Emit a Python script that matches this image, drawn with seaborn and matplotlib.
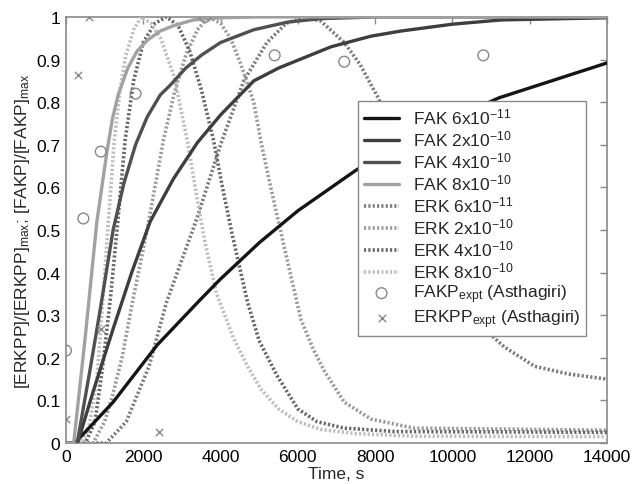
import numpy as np
import pandas as pd
import matplotlib
matplotlib.use('Agg')
import matplotlib.pyplot as plt
import seaborn as sns

# ---------------- data ----------------
fak_6e11_t = [0, 230, 1220, 2360, 3460, 4000, 5000, 6000, 7500, 9000, 11200, 14000]
fak_6e11_v = [0, 0, 0.096, 0.23, 0.335, 0.385, 0.47, 0.545, 0.64, 0.72, 0.81, 0.892]

fak_2e10_t = [0, 300, 700, 1220, 1700, 2180, 2780, 3400, 4000, 4860, 5500, 6860, 7900, 8675, 10000, 11270, 14000]
fak_2e10_v = [0, 0, 0.12, 0.268, 0.40, 0.52, 0.62, 0.705, 0.77, 0.85, 0.88, 0.93, 0.955, 0.967, 0.983, 0.993, 0.998]

fak_4e10_t = [0, 290, 600, 880, 1220, 1500, 1800, 2100, 2440, 2700, 3100, 3500, 4000, 4860, 5740, 6600, 8000, 14000]
fak_4e10_v = [0, 0, 0.16, 0.31, 0.50, 0.61, 0.70, 0.765, 0.817, 0.84, 0.88, 0.91, 0.94, 0.97, 0.988, 0.996, 1.0, 1.0]

fak_8e10_t = [0, 200, 500, 800, 1060, 1200, 1350, 1600, 1840, 2100, 2440, 2800, 3300, 4000, 5000, 14000]
fak_8e10_v = [0, 0, 0.25, 0.52, 0.684, 0.76, 0.817, 0.88, 0.92, 0.945, 0.967, 0.98, 0.993, 0.998, 1.0, 1.0]

erk_6e11_t = [0, 1040, 1560, 2150, 2600, 3000, 3400, 4000, 4600, 5200, 5700, 6200, 6600, 7200, 7600, 8080,
              8600, 9200, 9800, 10300, 10800, 11350, 12130, 13000, 14000]
erk_6e11_v = [0, 0, 0.05, 0.18, 0.33, 0.43, 0.53, 0.70, 0.85, 0.94, 0.985, 1.0, 0.99, 0.94, 0.89, 0.81,
              0.70, 0.57, 0.44, 0.34, 0.27, 0.225, 0.18, 0.162, 0.15]

erk_2e10_t = [0, 700, 1000, 1200, 1450, 1740, 2100, 2520, 2800, 3100, 3400, 3700, 4000, 4260, 4520, 4860,
              5040, 5250, 5480, 5800, 6080, 6400, 6680, 7200, 7900, 9000, 14000]
erk_2e10_v = [0, 0, 0.05, 0.11, 0.2, 0.34, 0.5, 0.71, 0.82, 0.91, 0.97, 1.0, 0.985, 0.95, 0.89, 0.8,
              0.71, 0.62, 0.527, 0.4, 0.29, 0.22, 0.17, 0.096, 0.056, 0.035, 0.03]

erk_4e10_t = [0, 500, 750, 950, 1150, 1320, 1530, 1750, 2000, 2300, 2600, 2900, 3200, 3500, 3820, 4050,
              4300, 4700, 5000, 5450, 6000, 6500, 7200, 8500, 14000]
erk_4e10_v = [0, 0, 0.05, 0.18, 0.34, 0.5, 0.71, 0.85, 0.94, 0.985, 1.0, 0.98, 0.92, 0.83, 0.71, 0.6,
              0.49, 0.33, 0.24, 0.16, 0.08, 0.05, 0.035, 0.027, 0.025]

erk_8e10_t = [0, 400, 600, 800, 950, 1080, 1250, 1400, 1550, 1750, 1950, 2200, 2450, 2800, 3140, 3400,
              3600, 3900, 4340, 4700, 5040, 5500, 6000, 6600, 7500, 9000, 14000]
erk_8e10_v = [0, 0, 0.04, 0.15, 0.33, 0.5, 0.71, 0.83, 0.91, 0.97, 1.0, 0.985, 0.95, 0.86, 0.71, 0.57,
              0.47, 0.35, 0.245, 0.18, 0.127, 0.08, 0.05, 0.032, 0.022, 0.016, 0.015]

fakp_t = [0, 450, 900, 1800, 3600, 5400, 7200, 10800]
fakp_v = [0.217, 0.527, 0.684, 0.82, 1.0, 0.91, 0.895, 0.91]

erkpp_t = [0, 300, 600, 900, 2400]
erkpp_v = [0.057, 0.863, 1.0, 0.268, 0.027]

xticks = [0, 2000, 4000, 6000, 8000, 10000, 12000, 14000]
yticks = [0, 0.1, 0.2, 0.3, 0.4, 0.5, 0.6, 0.7, 0.8, 0.9, 1]
ytick_labels = ['0', '0.1', '0.2', '0.3', '0.4', '0.5', '0.6', '0.7', '0.8', '0.9', '1']

# ---------------- style ----------------
sns.set_style('white')
plt.rcParams['font.family'] = ['Liberation Sans', 'DejaVu Sans']
plt.rcParams['mathtext.fontset'] = 'custom'
plt.rcParams['mathtext.rm'] = 'Liberation Sans'
plt.rcParams['mathtext.it'] = 'Liberation Sans:italic'
plt.rcParams['mathtext.bf'] = 'Liberation Sans:bold'

fig = plt.figure(figsize=(6.32, 4.85), dpi=100)
ax = fig.add_axes([0.1044, 0.0845, 0.856, 0.8785])

dot = (0, (0.6, 0.6))
fak_series = [
    (fak_6e11_t, fak_6e11_v, '#151515', 'FAK 6x10$^{-11}$'),
    (fak_2e10_t, fak_2e10_v, '#3e3e3e', 'FAK 2x10$^{-10}$'),
    (fak_4e10_t, fak_4e10_v, '#505050', 'FAK 4x10$^{-10}$'),
    (fak_8e10_t, fak_8e10_v, '#a2a2a2', 'FAK 8x10$^{-10}$'),
]
erk_series = [
    (erk_6e11_t, erk_6e11_v, '#7c7c7c', 'ERK 6x10$^{-11}$'),
    (erk_2e10_t, erk_2e10_v, '#9a9a9a', 'ERK 2x10$^{-10}$'),
    (erk_4e10_t, erk_4e10_v, '#666666', 'ERK 4x10$^{-10}$'),
    (erk_8e10_t, erk_8e10_v, '#bdbdbd', 'ERK 8x10$^{-10}$'),
]

for t, v, c, lab in fak_series:
    sns.lineplot(x=t, y=v, ax=ax, color=c, linewidth=2.4, label=lab,
                 estimator=None, sort=False, zorder=4)
for t, v, c, lab in erk_series:
    sns.lineplot(x=t, y=v, ax=ax, color=c, linewidth=2.6, linestyle=dot, label=lab,
                 estimator=None, sort=False, zorder=3)

sns.scatterplot(x=fakp_t, y=fakp_v, ax=ax, marker='o', s=60, facecolor='none',
                edgecolor='#888888', linewidth=1.0, label='FAKP$_{\\rm expt}$ (Asthagiri)', zorder=5)
sns.scatterplot(x=erkpp_t, y=erkpp_v, ax=ax, marker='x', s=28, color='#888888',
                linewidth=1.0, label='ERKPP$_{\\rm expt}$ (Asthagiri)', zorder=5)

ax.set_xlim(0, 14000)
ax.set_ylim(0, 1)
ax.set_xticks(xticks)
ax.set_xticklabels([str(x) for x in xticks])
ax.set_yticks(yticks)
ax.set_yticklabels(ytick_labels)
ax.tick_params(direction='in', length=5, width=1, top=True, right=True,
               color='#8a8a8a', labelcolor='black', labelsize=12.5, pad=4)
for s in ax.spines.values():
    s.set_color('#8a8a8a')
    s.set_linewidth(1.2)

ax.set_xlabel('Time, s', fontsize=12.5, labelpad=2)
ax.set_ylabel('[ERKPP]/[ERKPP]$_{\\rm max}$; [FAKP]/[FAKP]$_{\\rm max}$', fontsize=12.5, labelpad=3)

h, l = ax.get_legend_handles_labels()
leg = ax.legend(h, l, loc='upper left', bbox_to_anchor=(0.540, 0.803), fontsize=12.5,
                frameon=True, fancybox=False, edgecolor='#8a8a8a', framealpha=1,
                handlelength=2.0, labelspacing=0.12, borderpad=0.35, handletextpad=0.8,
                borderaxespad=0.0)
leg.get_frame().set_linewidth(1.0)

fig.savefig('out.png', dpi=100)
